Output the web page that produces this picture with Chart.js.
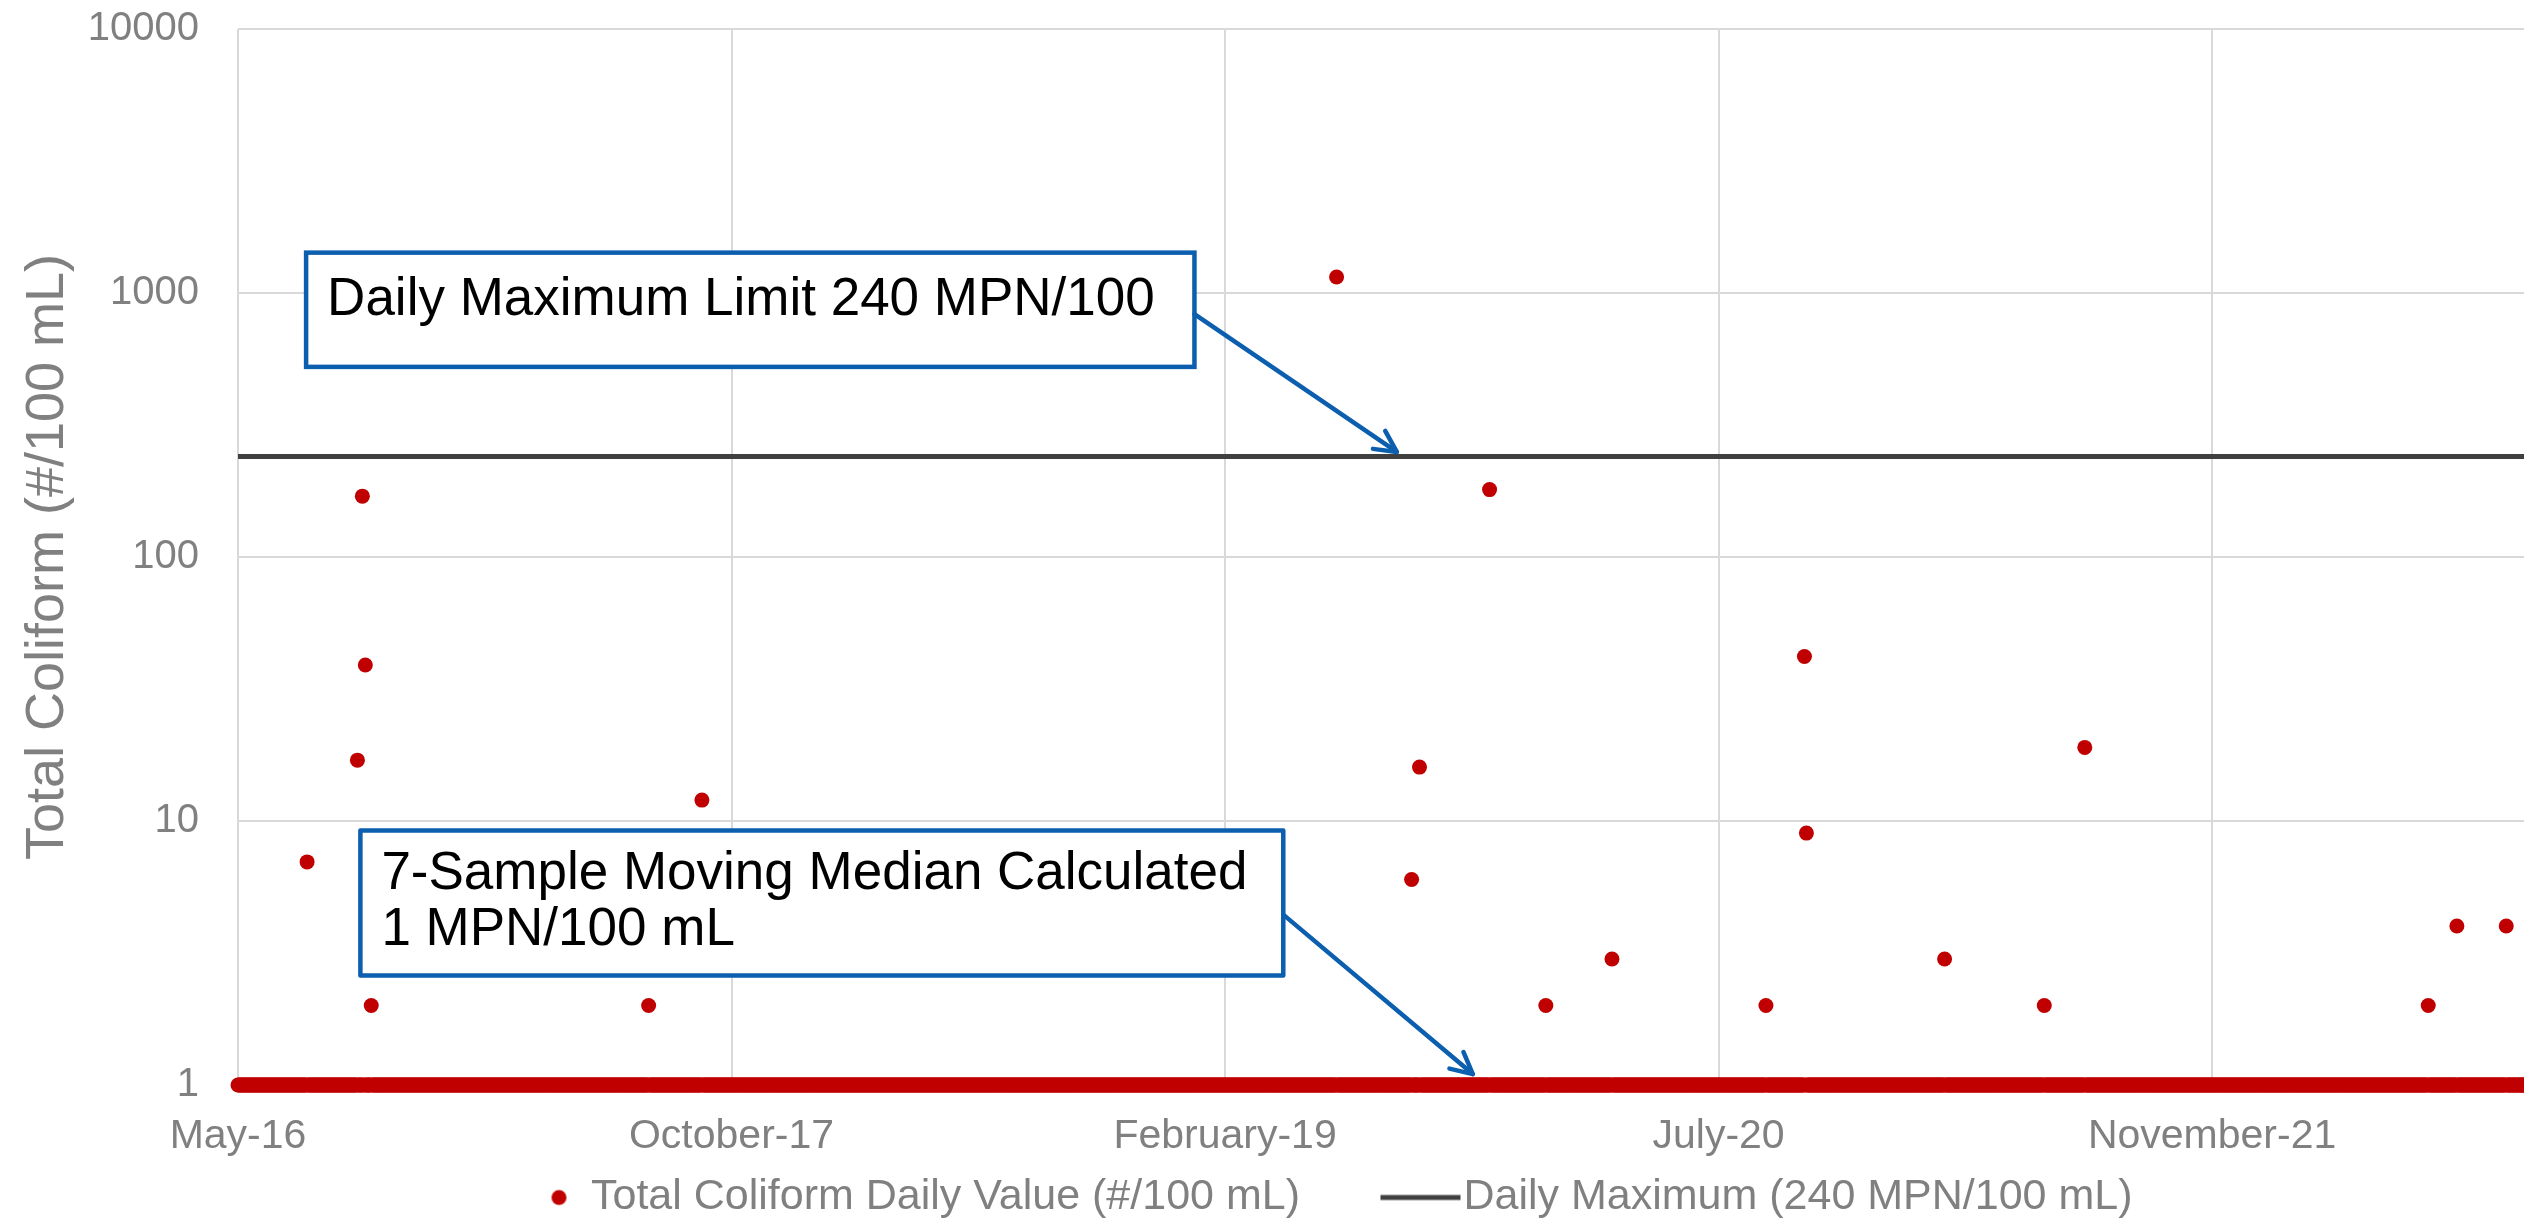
<!DOCTYPE html>
<html>
<head>
<meta charset="utf-8">
<title>Total Coliform Daily Value</title>
<script src="https://cdn.jsdelivr.net/npm/chart.js@4.4.1/dist/chart.umd.min.js"></script>
<style>
    html, body { margin: 0; padding: 0; background: #fff; }
    canvas { display: block; }
</style>
</head>
<body>
<canvas id="myChart" width="2524" height="1229"></canvas>
<script>
// values
const axisStart = '2016-05-25'
const axisEnd = '2022-09-27'
const sampleStart = '2016-05-25'
const sampleEnd = '2022-09-30'
const nonDetectValue = 1

// days where the daily value was above the non-detect level
const hitDates = ['2016-08-03', '2016-09-23', '2016-09-28', '2016-10-01', '2016-10-07',
    '2017-07-15', '2017-09-07', '2019-06-12', '2019-08-27', '2019-09-04', '2019-11-14',
    '2020-01-10', '2020-03-17', '2020-08-20', '2020-09-28', '2020-09-30', '2021-02-17',
    '2021-05-29', '2021-07-09', '2022-06-22', '2022-07-21', '2022-09-09']
const hitValues = [7, 17, 170, 39, 2,
    2, 12, 1150, 6, 16, 180,
    2, 3, 2, 42, 9, 3,
    2, 19, 2, 4, 4]

const dailyMax = 240
const xTickDays = [0, 500, 1000, 1500, 2000]
const xTickLabels = ['May-16', 'October-17', 'February-19', 'July-20', 'November-21']
const yTicks = [1, 10, 100, 1000, 10000]

const seriesLabels = ['Total Coliform Daily Value (#/100 mL)', 'Daily Maximum (240 MPN/100 mL)']

function dayOf(s){
    return Math.round((Date.parse(s) - Date.parse(axisStart)) / 864e5)
}

// daily samples: non-detect unless listed above
let hits = {}
hitDates.forEach(function(d, i){ hits[dayOf(d)] = hitValues[i] })
let samples = []
for (let d = dayOf(sampleStart); d <= dayOf(sampleEnd); d++) {
    samples.push({x: d, y: hits[d] !== undefined ? hits[d] : nonDetectValue})
}

const red = '#C00000'
const dark = '#404040'
const blue = '#0B5FAE'
const gray = '#808080'
const gridGray = '#D9D9D9'
const fontFamily = '"Liberation Sans", Arial, sans-serif'

// legend markers (drawn into small canvases so dot and line sit like the original)
function legendMark(kind){
    let c = document.createElement('canvas')
    let g = c.getContext('2d')
    if (kind === 'dot') {
        c.width = 126; c.height = 18
        g.fillStyle = red
        g.beginPath(); g.arc(115.5, 9, 7.5, 0, Math.PI * 2); g.fill()
    } else {
        c.width = 164; c.height = 10
        g.fillStyle = dark
        g.fillRect(83.5, 2.5, 80, 5)
    }
    return c
}
let legendMarks = [legendMark('dot'), legendMark('line')]

// callout boxes, anchored in data units (x: days, y: value)
const callouts = [
    {lines: ['Daily Maximum Limit 240 MPN/100'], x0: 69, x1: 969, y0: 1422, y1: 525, textTop: 48,
        from: [969, 832], tip: [1174, 250]},
    {lines: ['7-Sample Moving Median Calculated', '1 MPN/100 mL'], x0: 124, x1: 1059, y0: 9.2, y1: 2.6, textTop: 44,
        from: [1059, 4.42], tip: [1251, 1.1]}
]

let calloutPlugin = {
    id: 'callouts',
    afterDatasetsDraw: function(chart){
        let c = chart.ctx, xs = chart.scales.x, ys = chart.scales.y
        c.save()
        callouts.forEach(function(b){
            let l = xs.getPixelForValue(b.x0), r = xs.getPixelForValue(b.x1)
            let t = ys.getPixelForValue(b.y0), btm = ys.getPixelForValue(b.y1)
            c.fillStyle = '#fff'
            c.fillRect(l, t, r - l, btm - t)
            c.strokeStyle = blue
            c.lineWidth = 4.5
            c.strokeRect(l, t, r - l, btm - t)
            c.fillStyle = '#000'
            c.font = '53px ' + fontFamily
            c.textBaseline = 'middle'
            c.textAlign = 'left'
            b.lines.forEach(function(txt, i){
                c.fillText(txt, l + 21, t + b.textTop + i * 56)
            })
            // arrow with open head
            let x1 = xs.getPixelForValue(b.from[0]), y1 = ys.getPixelForValue(b.from[1])
            let x2 = xs.getPixelForValue(b.tip[0]), y2 = ys.getPixelForValue(b.tip[1])
            let a = Math.atan2(y2 - y1, x2 - x1)
            c.lineWidth = 4.5
            c.lineCap = 'round'
            c.lineJoin = 'round'
            c.beginPath(); c.moveTo(x1, y1); c.lineTo(x2, y2); c.stroke()
            c.beginPath()
            c.moveTo(x2 - 24 * Math.cos(a - 0.47), y2 - 24 * Math.sin(a - 0.47))
            c.lineTo(x2, y2)
            c.lineTo(x2 - 24 * Math.cos(a + 0.47), y2 - 24 * Math.sin(a + 0.47))
            c.stroke()
        })
        c.restore()
    }
}

// centre the legend row the way the original sits
let legendNudge = {
    id: 'legendNudge',
    afterLayout: function(chart){
        chart.legend.left += 26
        chart.legend.right += 26
    }
}

Chart.defaults.font.family = fontFamily
Chart.defaults.color = gray

var ctx = document.getElementById('myChart').getContext('2d')
var myChart = new Chart(ctx, {
    type: 'scatter',
    data: {
        datasets: [{
            label: seriesLabels[0],
            data: samples,
            backgroundColor: red,
            borderWidth: 0,
            pointRadius: 7.5,
            pointHoverRadius: 7.5,
            clip: false
        }, {
            type: 'line',
            label: seriesLabels[1],
            data: [{x: 0, y: dailyMax}, {x: dayOf(axisEnd), y: dailyMax}],
            borderColor: dark,
            borderWidth: 5,
            pointRadius: 0,
            fill: false
        }]
    },
    options: {
        responsive: false,
        animation: false,
        devicePixelRatio: 1,
        layout: { autoPadding: false, padding: { top: 29, right: 0, bottom: 0, left: 0 } },
        plugins: {
            tooltip: { enabled: false },
            legend: {
                position: 'bottom',
                labels: {
                    usePointStyle: true,
                    pointStyleWidth: 126,
                    padding: 16,
                    color: gray,
                    font: { size: 43 },
                    generateLabels: function(chart){
                        return chart.data.datasets.map(function(ds, i){
                            return { text: ds.label, pointStyle: legendMarks[i], datasetIndex: i,
                                hidden: false, lineWidth: 0, fontColor: gray }
                        })
                    }
                }
            }
        },
        scales: {
            x: {
                type: 'linear',
                min: 0,
                max: dayOf(axisEnd),
                afterBuildTicks: function(s){ s.ticks = xTickDays.map(function(v){ return {value: v} }) },
                afterFit: function(s){
                    s.height = 75
                    s.paddingLeft = 0
                    s.paddingRight = 0
                },
                ticks: {
                    callback: function(v){ return xTickLabels[xTickDays.indexOf(v)] },
                    font: { size: 41 },
                    color: gray,
                    padding: 27,
                    maxRotation: 0,
                    autoSkip: false
                },
                grid: { color: gridGray, lineWidth: 2, drawTicks: false },
                border: { display: false }
            },
            y: {
                type: 'logarithmic',
                min: 1,
                max: 10000,
                afterBuildTicks: function(s){ s.ticks = yTicks.map(function(v){ return {value: v} }) },
                afterFit: function(s){
                    s.width = 238
                    s.paddingTop = 20
                    s.paddingBottom = 20
                },
                ticks: {
                    callback: function(v){ return String(v) },
                    font: { size: 40 },
                    color: gray,
                    padding: 39
                },
                grid: { color: gridGray, lineWidth: 2, drawTicks: false },
                border: { display: false },
                title: {
                    display: true,
                    text: 'Total Coliform (#/100 mL)',
                    font: { size: 54 },
                    color: gray,
                    padding: { top: 16, bottom: 0 }
                }
            }
        }
    },
    plugins: [calloutPlugin, legendNudge]
})
</script>
</body>
</html>
